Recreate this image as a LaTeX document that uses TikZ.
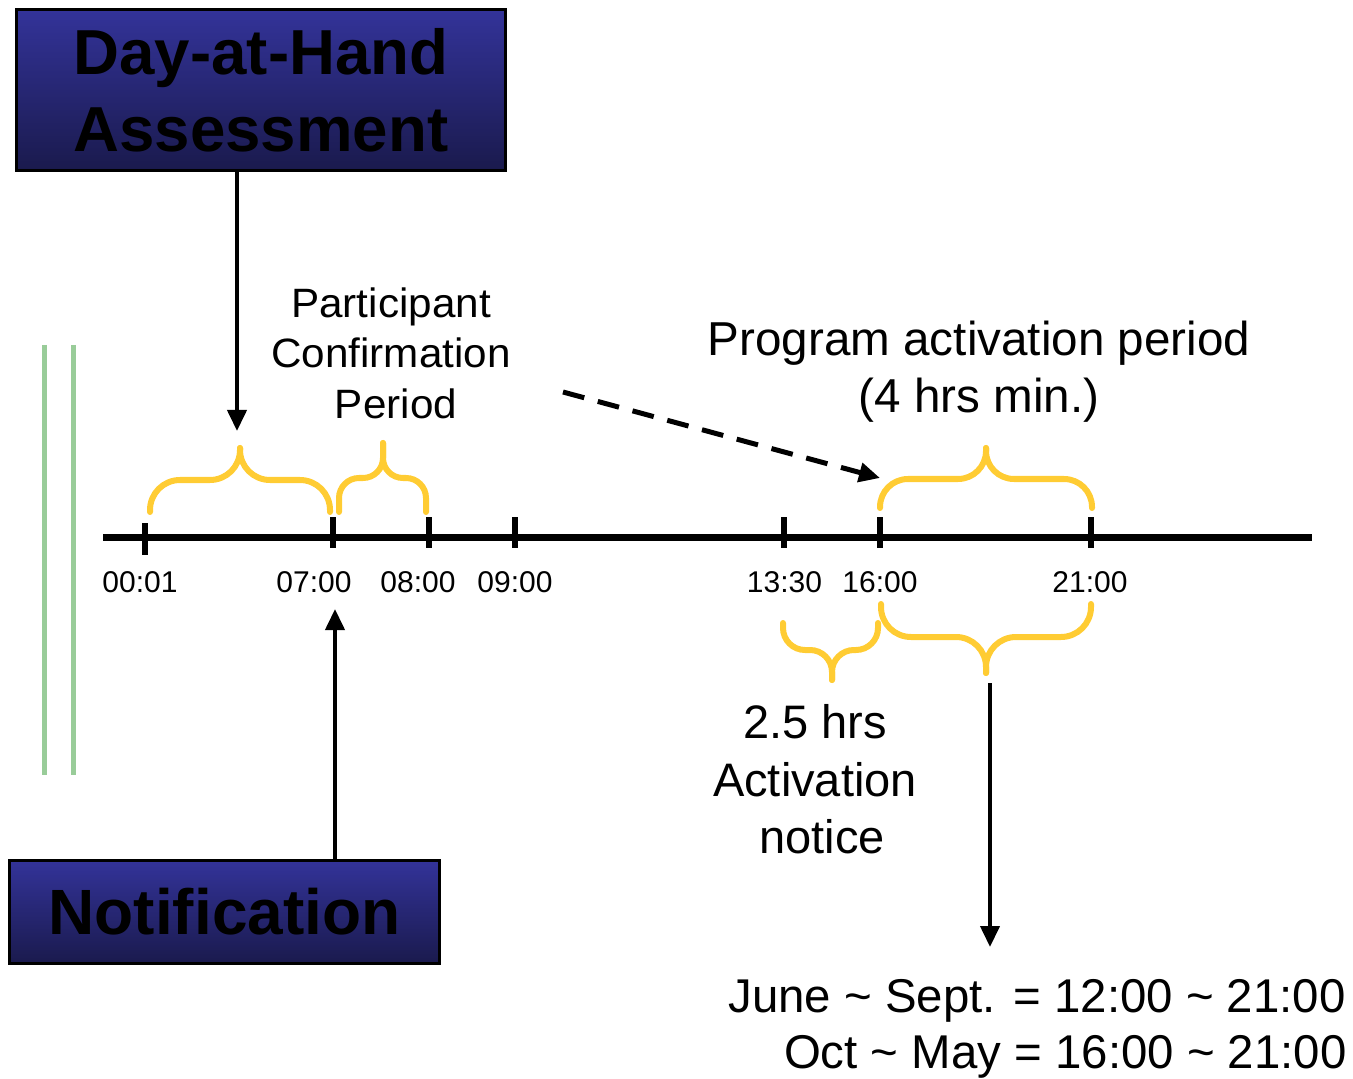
\documentclass[tikz,border=0pt]{standalone}
\usepackage{fontspec}
\setmainfont{Liberation Sans}
\newfontfamily\fPart[FakeStretch=1.03]{Liberation Sans}
\usetikzlibrary{arrows.meta}
\definecolor{bxtop}{RGB}{51,51,153}
\definecolor{bxbot}{RGB}{26,26,77}
\definecolor{bracecol}{RGB}{255,204,51}
\definecolor{greencol}{RGB}{153,204,153}
\newcommand\ybrace[7]{%
  \draw[ybr, rounded corners=#7] (#1,#4) -- (#1,#5) -- (#3,#5) -- (#3,#6);
  \draw[ybr, rounded corners=#7] (#3,#6) -- (#3,#5) -- (#2,#5) -- (#2,#4);}
\begin{document}
\begin{tikzpicture}[x=0.5pt,y=-0.5pt,
  txt/.style={inner sep=0pt, anchor=base},
  lab/.style={txt, font=\fontsize{15}{18}\selectfont},
  bx/.style={draw=black, line width=1.5pt, top color=bxtop, bottom color=bxbot,
    inner sep=0pt, align=center, font=\bfseries\fontsize{31.8}{38.5}\selectfont},
  arr/.style={line width=2pt, -{Triangle[length=10.5pt,width=9.5pt]}},
  ybr/.style={draw=bracecol, line width=3pt, line cap=round},
  tick/.style={line width=3pt},
  gline/.style={draw=greencol, line width=2.5pt}]
\useasboundingbox (0,0) rectangle (1353,1079);

% green lines
\draw[gline] (44,345) -- (44,775);
\draw[gline] (73,345) -- (73,775);

% boxes
\node[bx, minimum width=244.5pt, minimum height=80.5pt] (dah) at (261,90) {Day-at-Hand\\Assessment};
\node[bx, minimum width=215pt, minimum height=51.5pt, font=\bfseries\fontsize{32}{38}\selectfont] (notif) at (224.5,912) {Notification};

% timeline
\coordinate (tl0) at (103,537);
\coordinate (tl1) at (1312,537);
\draw[line width=3.5pt] (tl0) -- (tl1);
\draw[tick] (145,523) -- (145,555);
\foreach \x in {333,429,515,784,880,1091} \draw[tick] (\x,517) -- (\x,548);

% time labels
\node[lab] (l1) at (140,592) {00:01};
\node[lab] (l2) at (314,592) {07:00};
\node[lab] (l3) at (418,592) {08:00};
\node[lab] (l4) at (515,592) {09:00};
\node[lab] (l5) at (784.5,592) {13:30};
\node[lab] (l6) at (880,592) {16:00};
\node[lab] (l7) at (1090,592) {21:00};

% braces
\ybrace{150}{330}{240}{512}{480}{448}{15pt}
\ybrace{339}{426}{383}{512}{478}{443}{10pt}
\ybrace{880}{1092}{986}{508}{479}{448}{14pt}
\ybrace{881}{1091}{986}{604}{637}{673}{15pt}
\ybrace{783}{878}{832}{623}{650}{680}{11pt}

% texts
\node[txt, font=\fPart\fontsize{20.5}{25}\selectfont] (p1) at (391,318) {Participant};
\node[txt, font=\fPart\fontsize{20.5}{25}\selectfont] (p2) at (391,368) {Confirmation};
\node[txt, font=\fPart\fontsize{20.5}{25}\selectfont] (p3) at (396,419) {Period};

\node[txt, font=\fontsize{23.8}{28}\selectfont] (g1) at (979,356) {Program activation period};
\node[txt, font=\fontsize{23.8}{28}\selectfont] (g2) at (979,413) {(4 hrs min.)};

\node[txt, font=\fontsize{23.5}{28}\selectfont] (a1) at (815,738) {2.5 hrs};
\node[txt, font=\fontsize{23.5}{28}\selectfont] (a2) at (815,796) {Activation};
\node[txt, font=\fontsize{23.5}{28}\selectfont] (a3) at (822,853) {notice};

\node[txt, anchor=base east, font=\fontsize{23.7}{28}\selectfont] (b1) at (1346,1012) {June \textasciitilde{} Sept. = 12:00 \textasciitilde{} 21:00};
\node[txt, anchor=base east, font=\fontsize{23.7}{28}\selectfont] (b2) at (1347,1068) {Oct \textasciitilde{} May = 16:00 \textasciitilde{} 21:00};

% arrows
\coordinate (dahTip) at (237,431);
\draw[arr] (dah.south -| dahTip) -- (dahTip);
\coordinate (notTip) at (335,609);
\draw[arr] (notif.north -| notTip) -- (notTip);
\coordinate (dashS) at (563,392);
\coordinate (dashE) at (880,478);
\draw[arr, line width=2.5pt, dash pattern=on 11pt off 7pt] (dashS) -- (dashE);
\coordinate (downS) at (990,683);
\coordinate (downE) at (990,947);
\draw[arr] (downS) -- (downE);
\end{tikzpicture}
\end{document}
